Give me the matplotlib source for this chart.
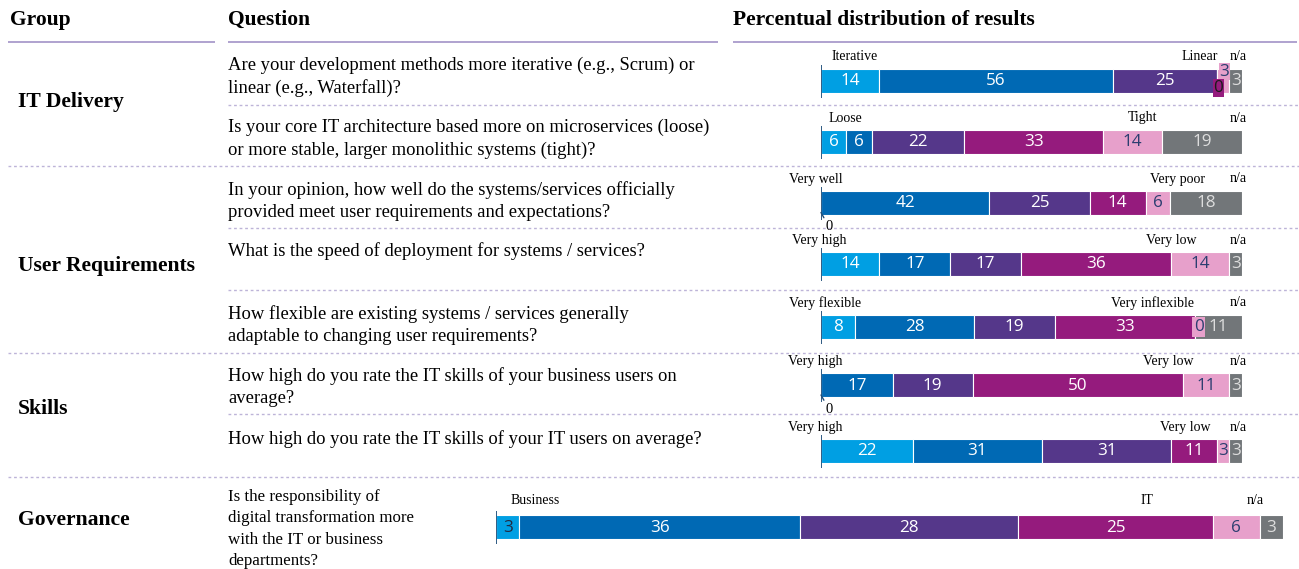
import matplotlib
matplotlib.use('Agg')
import matplotlib.pyplot as plt
import numpy as np

# ---------------- data ----------------
groups = ["IT Delivery", "User Requirements", "Skills", "Governance"]
questions = [
    "Are your development methods more iterative (e.g., Scrum) or\nlinear (e.g., Waterfall)?",
    "Is your core IT architecture based more on microservices (loose)\nor more stable, larger monolithic systems (tight)?",
    "In your opinion, how well do the systems/services officially\nprovided meet user requirements and expectations?",
    "What is the speed of deployment for systems / services?",
    "How flexible are existing systems / services generally\nadaptable to changing user requirements?",
    "How high do you rate the IT skills of your business users on\naverage?",
    "How high do you rate the IT skills of your IT users on average?",
    "Is the responsibility of\ndigital transformation more\nwith the IT or business\ndepartments?",
]
left_labels = ["Iterative", "Loose", "Very well", "Very high", "Very flexible",
               "Very high", "Very high", "Business"]
right_labels = ["Linear", "Tight", "Very poor", "Very low", "Very inflexible",
                "Very low", "Very low", "IT"]
na_label = "n/a"

s1 = [14, 6, 0, 14, 8, 0, 22, 3]
s2 = [56, 6, 42, 17, 28, 17, 31, 36]
s3 = [25, 22, 25, 17, 19, 19, 31, 28]
s4 = [0, 33, 14, 36, 33, 50, 11, 25]
s5 = [3, 14, 6, 14, 0, 11, 3, 6]
s_na = [3, 19, 18, 3, 11, 3, 3, 3]

# ---------------- styles / layout ----------------
W, H = 1299, 569
SERIF = ['Liberation Serif', 'DejaVu Serif']
SANS = ['Open Sans', 'DejaVu Sans']
colors = ['#009FE3', '#0069B4', '#55378A', '#951B7D', '#E7A0CB', '#727679']
txt_colors = ['white', 'white', 'white', 'white', '#2C3E70', '#DDDDDD']
lav = '#A99BCB'
lav_d = '#BDB4D8'
NUM_FS = 12.3

bar_center_px = [80.5, 141.5, 202.5, 264, 326.5, 385, 450.5, 527]
bar_left_px = [821] * 7 + [496]
bar_width_px = [421] * 7 + [787]
left_label_off = [2.4, 1.9, -7.6, -6.9, -7.6, -7.8, -7.8, 1.8]
right_label_end = [94.3, 80.0, 91.2, 89.3, 88.6, 88.4, 92.4, 83.5]
na_end = [101.2] * 7 + [97.5]
q_y_px = [64, 126, 188, 249, 312, 374, 437, 496]
group_y_px = [102, 266, 409, 520]

fig = plt.figure(figsize=(W / 100, H / 100), dpi=100)
bg = fig.add_axes([0, 0, 1, 1])
bg.set_xlim(0, W)
bg.set_ylim(H, 0)
bg.axis('off')

# headers
for x, t in [(10, "Group"), (228, "Question"), (733, "Percentual distribution of results")]:
    bg.text(x, 20, t, fontsize=15.5, fontweight='bold', family=SERIF, va='center', ha='left')
for x0, x1 in [(8, 215), (228, 718), (733, 1297)]:
    bg.plot([x0, x1], [42, 42], color=lav, lw=1.3, solid_capstyle='butt')

# separators
for y, x0 in [(105, 228), (166, 8), (228, 228), (290, 228), (353, 8), (414, 228), (477, 8)]:
    bg.plot([x0, W], [y, y], color=lav_d, lw=1.0, ls=(0, (2, 2)))

# group labels
for g, y in zip(groups, group_y_px):
    bg.text(18, y, g, fontsize=15.6, fontweight='bold', family=SERIF, va='center', ha='left')

# questions
for i, (q, y) in enumerate(zip(questions, q_y_px)):
    fs = 13.4 if i < 7 else 12.2
    ls = 1.37 if i < 7 else 1.45
    bg.text(228, y - 7, q, fontsize=fs, family=SERIF, va='top', ha='left', linespacing=ls)

series = np.array([s1, s2, s3, s4, s5, s_na], dtype=float)

for r in range(len(questions)):
    vals = series[:, r]
    pct = vals / vals.sum() * 100
    lefts = np.concatenate([[0], np.cumsum(pct)[:-1]])
    c = bar_center_px[r]
    ax = fig.add_axes([bar_left_px[r] / W, 1 - (c + 32) / H, bar_width_px[r] / W, 64 / H])
    ax.set_xlim(0, 100)
    ax.set_ylim(-32, 32)
    ax.axis('off')
    ax.barh(0, pct, left=lefts, height=24, color=colors, edgecolor='white', linewidth=0.8, zorder=2)
    ax.vlines(0, -17, 16, color='#1F4E79', lw=1.3, zorder=3)

    for k in range(6):
        lab = f"{int(vals[k])}"
        xc = lefts[k] + pct[k] / 2
        tc = txt_colors[k]
        if r == 7 and k == 0:
            tc = '#1F2A44'
        if vals[k] == 0:
            if k == 0:
                ax.annotate("0", xy=(0, -10), xytext=(1.9, -24.5), fontsize=10.5,
                            family=SERIF, ha='center', va='center', color='black',
                            arrowprops=dict(arrowstyle='-', color='#1F4E79', lw=1,
                                            shrinkA=5, shrinkB=0), zorder=4)
            elif k == 3:
                ax.text(lefts[k] + 0.3, -7.5, "0", fontsize=NUM_FS, family=SANS, ha='center',
                        va='center', color='#1A1A1A', zorder=5,
                        bbox=dict(boxstyle='square,pad=0.05', fc=colors[k], ec='none'))
            else:
                ax.text(lefts[k] + 0.8, -0.5, "0", fontsize=NUM_FS, family=SANS, ha='center',
                        va='center', color='#2C3E70', zorder=5,
                        bbox=dict(boxstyle='square,pad=0.1', fc=colors[k], ec='none'))
            continue
        if r == 0 and k == 4:
            ax.text(xc + 0.3, 9, lab, fontsize=NUM_FS, family=SANS, ha='center', va='center',
                    color=tc, zorder=4,
                    bbox=dict(boxstyle='square,pad=0.05', fc=colors[k], ec='none'))
            continue
        ax.text(xc, -0.5, lab, fontsize=NUM_FS, family=SANS, ha='center', va='center',
                color=tc, zorder=4)

    ly = 23.5 if r < 7 else 26
    ax.text(left_label_off[r], ly, left_labels[r], fontsize=10, family=SERIF,
            ha='left', va='center')
    ax.text(right_label_end[r], ly, right_labels[r], fontsize=10, family=SERIF,
            ha='right', va='center')
    ax.text(na_end[r], ly, na_label, fontsize=10, family=SERIF, ha='right', va='center')

fig.savefig('out.png', dpi=100)
